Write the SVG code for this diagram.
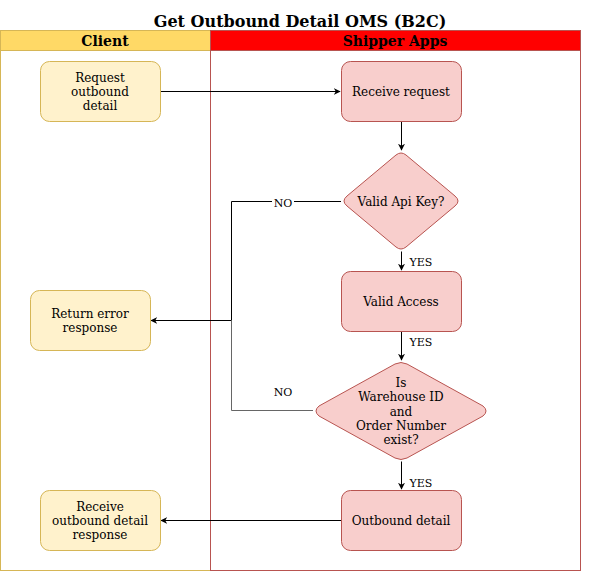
<svg xmlns="http://www.w3.org/2000/svg" width="602" height="572" viewBox="0 0 602 572">
<defs>
<style>
text{font-family:"DejaVu Serif","Liberation Serif",serif;fill:#000;text-anchor:middle}
.t{font-size:12px}
.lbl{font-size:11px}
.hd{font-size:14px;font-weight:bold}
.y{fill:#fff2cc;stroke:#d6b656;stroke-width:1}
.r{fill:#f8cecc;stroke:#b85450;stroke-width:1}
.e{fill:none;stroke:#000;stroke-width:1}
</style>
<marker id="a" viewBox="0 0 10 10" refX="9" refY="5" markerWidth="7" markerHeight="7" orient="auto" markerUnits="userSpaceOnUse">
<path d="M0,0 L10,5 L0,10 L3,5 Z" fill="#000"/>
</marker>
</defs>
<rect width="602" height="572" fill="#fff"/>
<text x="300" y="27" style="font-size:16px;font-weight:bold">Get Outbound Detail OMS (B2C)</text>
<g id="lane-client">
<rect x="0.5" y="30.5" width="210" height="540" fill="none" stroke="#d6b656"/>
<rect x="0.5" y="30.5" width="210" height="20" fill="#ffd966" stroke="#d6b656"/>
<text class="hd" x="105" y="46">Client</text>
</g>
<g id="lane-shipper">
<rect x="210.5" y="30.5" width="370" height="540" fill="none" stroke="#b85450"/>
<rect x="210.5" y="30.5" width="370" height="20" fill="#ff0000" stroke="#b85450"/>
<text class="hd" x="395" y="46">Shipper Apps</text>
</g>
<g id="connectors">
<path class="e" d="M160.5,91.5 H340" marker-end="url(#a)"/>
<path class="e" d="M401.5,121.5 V150" marker-end="url(#a)"/>
<path class="e" d="M401.5,251.5 V270" marker-end="url(#a)"/>
<text class="lbl" x="421" y="266">YES</text>
<path class="e" d="M401.5,331.5 V360" marker-end="url(#a)"/>
<text class="lbl" x="421" y="346">YES</text>
<path class="e" d="M401.5,461.5 V489" marker-end="url(#a)"/>
<text class="lbl" x="421" y="487">YES</text>
<path class="e" d="M341,201.5 H231.5 V320.5 H151" marker-end="url(#a)"/>
<rect x="272" y="196" width="22" height="12" fill="#fff"/>
<text class="lbl" x="283" y="207">NO</text>
<path d="M313,410.5 H231.5 V320.5" fill="none" stroke="#666"/>
<text class="lbl" x="283" y="396">NO</text>
<path class="e" d="M341,520.5 H161" marker-end="url(#a)"/>
</g>
<g id="request">
<rect class="y" x="40.5" y="61.5" width="120" height="60" rx="9"/>
<text class="t" x="100" y="82">Request</text>
<text class="t" x="100" y="96">outbound</text>
<text class="t" x="100" y="110">detail</text>
</g>
<g id="receive-request">
<rect class="r" x="341.5" y="61.5" width="120" height="60" rx="9"/>
<text class="t" x="401" y="96">Receive request</text>
</g>
<g id="valid-api-key">
<path class="r" d="M396,155 Q401,151 406,155 L455,196 Q461,201 455,206 L406,247 Q401,251 396,247 L347,206 Q341,201 347,196 Z"/>
<text class="t" x="401" y="206">Valid Api Key?</text>
</g>
<g id="valid-access">
<rect class="r" x="341.5" y="271.5" width="120" height="60" rx="9"/>
<text class="t" x="401" y="306">Valid Access</text>
</g>
<g id="exist-check">
<path class="r" d="M395,364 Q401,361 407,364 L483,406 Q489,411 483,416 L407,458 Q401,461 395,458 L319,416 Q313,411 319,406 Z"/>
<text class="t" x="401" y="387">Is</text>
<text class="t" x="401" y="401">Warehouse ID</text>
<text class="t" x="401" y="416">and</text>
<text class="t" x="401" y="430">Order Number</text>
<text class="t" x="401" y="444">exist?</text>
</g>
<g id="outbound-detail">
<rect class="r" x="341.5" y="490.5" width="120" height="60" rx="9"/>
<text class="t" x="401" y="525">Outbound detail</text>
</g>
<g id="return-error">
<rect class="y" x="30.5" y="290.5" width="120" height="60" rx="9"/>
<text class="t" x="90" y="318">Return error</text>
<text class="t" x="90" y="332">response</text>
</g>
<g id="receive-response">
<rect class="y" x="40.5" y="490.5" width="120" height="60" rx="9"/>
<text class="t" x="100" y="511">Receive</text>
<text class="t" x="100" y="525">outbound detail</text>
<text class="t" x="100" y="539">response</text>
</g>
</svg>
